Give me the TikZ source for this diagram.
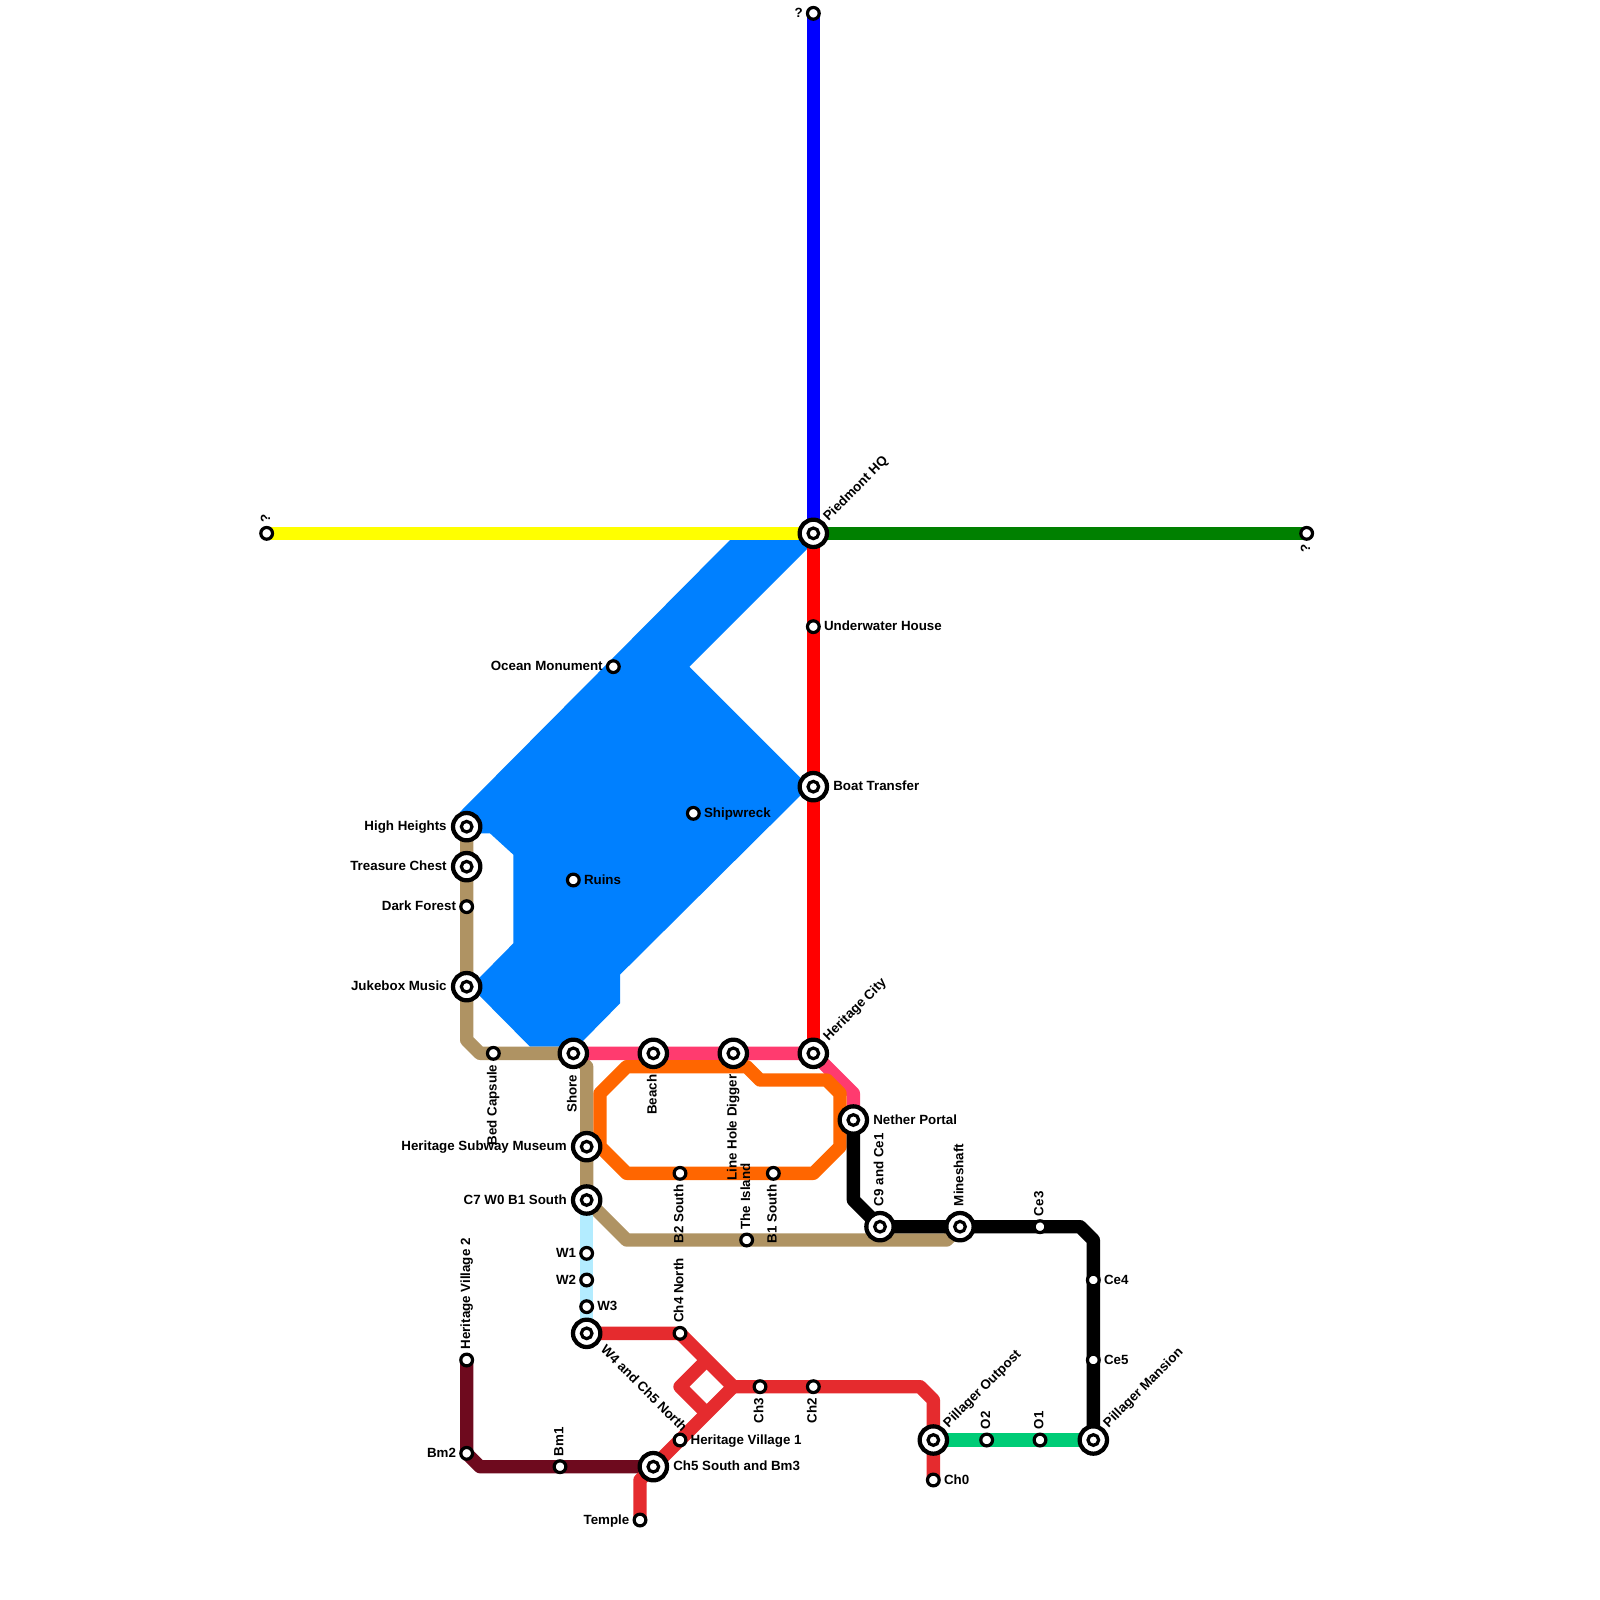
\documentclass[tikz,border=0pt]{standalone}
\usepackage{fontspec}
\setmainfont{Liberation Sans}
\usetikzlibrary{backgrounds}
\definecolor{waterblue}{HTML}{0080FF}
\definecolor{tanline}{HTML}{AF9363}
\definecolor{pinkline}{HTML}{FF3B6F}
\definecolor{orangeline}{HTML}{FF6600}
\definecolor{crimsonline}{HTML}{E52B2E}
\definecolor{maroonline}{HTML}{6E0A1E}
\definecolor{iceline}{HTML}{B3ECFF}
\definecolor{mintline}{HTML}{00CC77}
\definecolor{redline}{HTML}{FF0000}
\definecolor{blueline}{HTML}{0000FF}
\definecolor{yellowline}{HTML}{FFFF00}
\definecolor{greenline}{HTML}{008000}
\tikzset{
    stop/.style={circle, draw=black, fill=white, line width=2.4pt, minimum size=8.8pt, inner sep=0pt},
    hub/.style={circle, draw=black, fill=white, line width=3.2pt, minimum size=20.5pt, inner sep=0pt,
        path picture={\draw[black, line width=2.4pt] (path picture bounding box.center) circle (4pt);}},
    route/.style={line width=10pt, line join=round},
    lbl/.style={font=\bfseries\fontsize{10}{12}\selectfont, inner sep=0pt, outer sep=0pt},
    rs/.style={lbl, xshift=8pt, yshift=-3pt, anchor=base west},
    ri/.style={lbl, xshift=15pt, yshift=-3pt, anchor=base west},
    ls/.style={lbl, xshift=-8pt, yshift=-3pt, anchor=base east},
    li/.style={lbl, xshift=-15pt, yshift=-3pt, anchor=base east},
    us/.style={lbl, xshift=2.5pt, yshift=8pt, rotate=90, anchor=base west},
    ui/.style={lbl, xshift=2.5pt, yshift=15.5pt, rotate=90, anchor=base west},
    ds/.style={lbl, xshift=2.5pt, yshift=-8.5pt, rotate=90, anchor=base east},
    di/.style={lbl, xshift=2.5pt, yshift=-16pt, rotate=90, anchor=base east},
    ne/.style={lbl, xshift=11.5pt, yshift=9pt, rotate=45, anchor=base west},
    se/.style={lbl, xshift=10pt, yshift=-13pt, rotate=-45, anchor=base west},
}
\begin{document}
\begin{tikzpicture}[x=10pt, y=-10pt]
    \useasboundingbox (0,0) rectangle (120,120);
    % stations
    \node[stop] (qtop) at (61,1) {};
    \node[stop] (qleft) at (20,40) {};
    \node[stop] (qright) at (98,40) {};
    \node[hub] (hq) at (61,40) {};
    \node[stop] (underwater) at (61,47) {};
    \node[hub] (boat) at (61,59) {};
    \node[hub] (herit) at (61,79) {};
    \node[stop] (ocean) at (46,50) {};
    \node[stop] (wreck) at (52,61) {};
    \node[stop] (ruins) at (43,66) {};
    \node[hub] (heights) at (35,62) {};
    \node[hub] (chest) at (35,65) {};
    \node[stop] (forest) at (35,68) {};
    \node[hub] (jukebox) at (35,74) {};
    \node[stop] (capsule) at (37,79) {};
    \node[hub] (shore) at (43,79) {};
    \node[hub] (beach) at (49,79) {};
    \node[hub] (digger) at (55,79) {};
    \node[hub] (nether) at (64,84) {};
    \node[hub] (museum) at (44,86) {};
    \node[hub] (cseven) at (44,90) {};
    \node[stop] (wone) at (44,94) {};
    \node[stop] (wtwo) at (44,96) {};
    \node[stop] (wthree) at (44,98) {};
    \node[hub] (wfour) at (44,100) {};
    \node[stop] (btwo) at (51,88) {};
    \node[stop] (bone) at (58,88) {};
    \node[stop] (island) at (56,93) {};
    \node[hub] (cnine) at (66,92) {};
    \node[hub] (mine) at (72,92) {};
    \node[stop] (cethree) at (78,92) {};
    \node[stop] (cefour) at (82,96) {};
    \node[stop] (cefive) at (82,102) {};
    \node[hub] (mansion) at (82,108) {};
    \node[stop] (oone) at (78,108) {};
    \node[stop] (otwo) at (74,108) {};
    \node[hub] (outpost) at (70,108) {};
    \node[stop] (chzero) at (70,111) {};
    \node[stop] (chfour) at (51,100) {};
    \node[stop] (chthree) at (57,104) {};
    \node[stop] (chtwo) at (61,104) {};
    \node[stop] (villone) at (51,108) {};
    \node[hub] (chfive) at (49,110) {};
    \node[stop] (temple) at (48,114) {};
    \node[stop] (bmone) at (42,110) {};
    \node[stop] (bmtwo) at (35,109) {};
    \node[stop] (villtwo) at (35,102) {};
    % labels
    \node[ls] (qtopt) at (qtop) {?};
    \node[us] (qleftt) at (qleft) {?};
    \node[ds] (qrightt) at (qright) {?};
    \node[ne] (hqt) at (hq) {Piedmont HQ};
    \node[rs] (underwatert) at (underwater) {Underwater House};
    \node[ri] (boatt) at (boat) {Boat Transfer};
    \node[ne] (heritt) at (herit) {Heritage City};
    \node[ls] (oceant) at (ocean) {Ocean Monument};
    \node[rs] (wreckt) at (wreck) {Shipwreck};
    \node[rs] (ruinst) at (ruins) {Ruins};
    \node[li] (heightst) at (heights) {High Heights};
    \node[li] (chestt) at (chest) {Treasure Chest};
    \node[ls] (forestt) at (forest) {Dark Forest};
    \node[li] (jukeboxt) at (jukebox) {Jukebox Music};
    \node[ds] (capsulet) at (capsule) {Bed Capsule};
    \node[di] (shoret) at (shore) {Shore};
    \node[di] (beacht) at (beach) {Beach};
    \node[di] (diggert) at (digger) {Line Hole Digger};
    \node[ri] (nethert) at (nether) {Nether Portal};
    \node[li] (museumt) at (museum) {Heritage Subway Museum};
    \node[li] (csevent) at (cseven) {C7 W0 B1 South};
    \node[ls] (wonet) at (wone) {W1};
    \node[ls] (wtwot) at (wtwo) {W2};
    \node[rs] (wthreet) at (wthree) {W3};
    \node[se] (wfourt) at (wfour) {W4 and Ch5 North};
    \node[ds] (btwot) at (btwo) {B2 South};
    \node[ds] (bonet) at (bone) {B1 South};
    \node[us] (islandt) at (island) {The Island};
    \node[ui] (cninet) at (cnine) {C9 and Ce1};
    \node[ui] (minet) at (mine) {Mineshaft};
    \node[us] (cethreet) at (cethree) {Ce3};
    \node[rs] (cefourt) at (cefour) {Ce4};
    \node[rs] (cefivet) at (cefive) {Ce5};
    \node[ne] (mansiont) at (mansion) {Pillager Mansion};
    \node[us] (oonet) at (oone) {O1};
    \node[us] (otwot) at (otwo) {O2};
    \node[ne] (outpostt) at (outpost) {Pillager Outpost};
    \node[rs] (chzerot) at (chzero) {Ch0};
    \node[us] (chfourt) at (chfour) {Ch4 North};
    \node[ds] (chthreet) at (chthree) {Ch3};
    \node[ds] (chtwot) at (chtwo) {Ch2};
    \node[rs] (villonet) at (villone) {Heritage Village 1};
    \node[ri] (chfivet) at (chfive) {Ch5 South and Bm3};
    \node[ls] (templet) at (temple) {Temple};
    \node[us] (bmonet) at (bmone) {Bm1};
    \node[ls] (bmtwot) at (bmtwo) {Bm2};
    \node[us] (villtwot) at (villtwo) {Heritage Village 2};
    % routes
    \begin{scope}[on background layer]
        \fill[waterblue] (61,40.4) -- (54.85,40.4) -- (34.5,60.9) -- (35,62.5) -- (36.75,62.5)
            -- (38.5,64.1) -- (38.5,70.75) -- (35.3,74) -- (39.75,78.5) -- (43.3,78.5)
            -- (46.5,75.25) -- (46.5,73.1) -- (60.6,59.1) -- (60.6,58.9) -- (51.7,50) -- (61,40.7) -- cycle;
        \draw[route, tanline] (heights.center) -- (35,78) -- (36,79) -- (shore.center)
            -- (44,80) -- (cseven.center) -- (47,93) -- (71,93) -- (mine.center);
        \draw[route, pinkline] (shore.center) -- (herit.center) -- (64,82) -- (nether.center);
        \draw[route, orangeline] (47,80) -- (56,80) -- (57,81) -- (62,81) -- (63,82) -- (63,86)
            -- (61,88) -- (47,88) -- (45,86) -- (45,82) -- cycle;
        \draw[route, black] (nether.center) -- (64,90) -- (cnine.center) -- (81,92) -- (82,93)
            -- (mansion.center);
        \draw[route, redline] (hq.center) -- (herit.center);
        \draw[route, blueline] (qtop.center) -- (hq.center);
        \draw[route, yellowline] (qleft.center) -- (hq.center);
        \draw[route, greenline] (hq.center) -- (qright.center);
        \draw[route, mintline] (outpost.center) -- (mansion.center);
        \draw[route, iceline] (cseven.center) -- (wfour.center);
        \draw[route, maroonline] (villtwo.center) -- (bmtwo.center) -- (36,110) -- (chfive.center);
        \draw[route, crimsonline] (wfour.center) -- (chfour.center) -- (55,104) -- (69,104)
            -- (70,105) -- (chzero.center);
        \draw[route, crimsonline] (55,104) -- (chfive.center) -- (48,111) -- (temple.center);
        \draw[route, crimsonline] (53,102) -- (51,104) -- (53,106);
    \end{scope}
\end{tikzpicture}
\end{document}
